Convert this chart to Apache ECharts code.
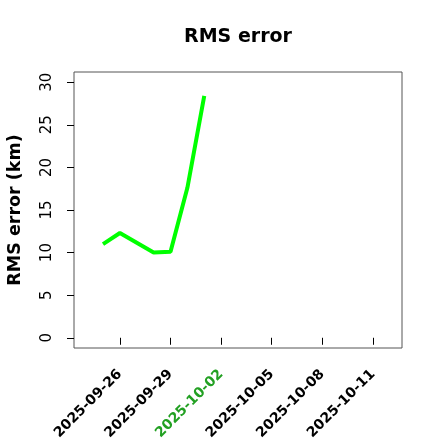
<!DOCTYPE html>
<html><head><meta charset="utf-8">
<script src="https://cdn.jsdelivr.net/npm/echarts@6/dist/echarts.min.js"></script>
<style>html,body{margin:0;padding:0;background:#fff}#c{width:440px;height:440px}</style>
</head><body><div id="c"></div>
<script>
const dates = ['2025-09-25','2025-09-26','2025-09-28','2025-09-29','2025-09-30','2025-10-01'];
const rmsValues = [11.0, 12.3, 10.0, 10.1, 17.6, 28.4];
const xTickLabels = ['2025-09-26','2025-09-29','2025-10-02','2025-10-05','2025-10-08','2025-10-11'];
const yTickLabels = [0, 5, 10, 15, 20, 25, 30];
const highlightLabel = '2025-10-02';

const ts = s => Date.parse(s + 'T00:00:00Z');
const fmt = v => {
  if (typeof v === 'string' && /^\d{4}-/.test(v)) return v;
  const n = Number(v);
  if (!isFinite(n)) return String(v);
  return new Date(n).toISOString().slice(0, 10);
};
const xMin = ts('2025-09-24'), xMax = ts('2025-10-12');
const xPad = (xMax - xMin) * 0.04;
const yPad = 30 * 0.04;

const chart = echarts.init(document.getElementById('c'), null, {renderer: 'canvas'});
chart.setOption({
  animation: false,
  backgroundColor: '#fff',
  title: {
    text: 'RMS error', left: 238, top: 28, textAlign: 'center', padding: 0,
    textStyle: {fontFamily: 'DejaVu Sans', fontWeight: 'bold', fontSize: 19, color: '#000'}
  },
  grid: {left: 74, right: 38, top: 72, bottom: 92, show: true, borderColor: '#555', borderWidth: 1,
         containLabel: false, outerBoundsMode: 'none'},
  xAxis: {
    type: 'value', min: xMin - xPad, max: xMax + xPad,
    axisLine: {show: false},
    splitLine: {show: false},
    axisTick: {show: true, length: 7, lineStyle: {color: '#000'}, customValues: xTickLabels.map(ts)},
    axisLabel: {
      customValues: xTickLabels.map(ts), rotate: 45, margin: 24,
      fontFamily: 'DejaVu Sans', fontWeight: 'bold', fontSize: 14,
      formatter: v => fmt(v),
      color: v => fmt(v) === highlightLabel ? '#22a022' : '#000'
    }
  },
  yAxis: {
    type: 'value', min: -yPad, max: 30 + yPad,
    name: 'RMS error (km)', nameLocation: 'middle', nameGap: 50,
    nameTextStyle: {fontFamily: 'DejaVu Sans', fontWeight: 'bold', fontSize: 17.5, color: '#000'},
    axisLine: {show: false},
    splitLine: {show: false},
    axisTick: {show: true, length: 7, lineStyle: {color: '#000'}, customValues: yTickLabels},
    axisLabel: {
      customValues: yTickLabels, rotate: 90, margin: 19,
      fontFamily: 'DejaVu Sans', fontSize: 15, color: '#000'
    }
  },
  series: [{
    type: 'line', showSymbol: false, symbol: 'none',
    data: dates.map((d, i) => [ts(d), rmsValues[i]]),
    lineStyle: {color: '#00ff00', width: 4}
  }]
});
</script></body></html>
